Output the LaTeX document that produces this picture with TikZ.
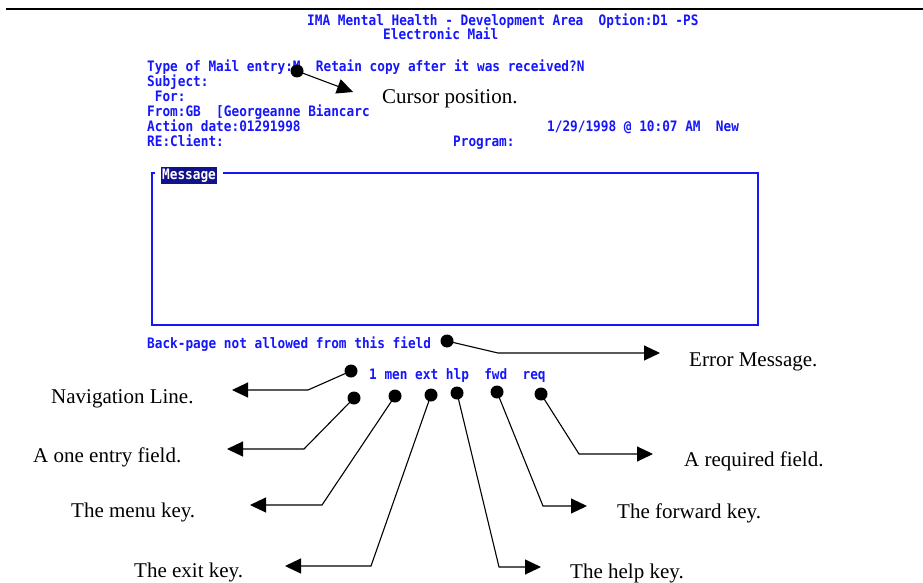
\documentclass[tikz,border=0pt]{standalone}
\usepackage{fontspec}
\setmainfont{Liberation Serif}
\newfontfamily\scrfont[FakeStretch=0.885]{DejaVu Sans Mono}
\usetikzlibrary{arrows.meta}
\definecolor{scrblue}{RGB}{22,22,250}
\definecolor{scrnavy}{RGB}{18,18,140}
\begin{document}
\begin{tikzpicture}[x=1pt,y=-1pt,
  scr/.style={anchor=base west, inner sep=0, text=scrblue,
    font=\scrfont\bfseries\fontsize{14.4}{14.4}\selectfont},
  lbl/.style={anchor=base west, inner sep=0,
    font=\fontsize{21}{21}\selectfont},
  dot/.style={circle, fill=black, inner sep=0, minimum size=13pt},
  conn/.style={line width=1.1pt, -{Triangle[length=16pt,width=15pt]}},
  frame/.style={draw=scrblue, line width=1.6pt}]
\useasboundingbox (0,0) rectangle (923,583);

% top rule
\draw[line width=2.2pt] (6,9) -- (923,9);

% screen header
\node[scr] (title) at (307,25.5) {IMA Mental Health - Development Area~ Option:D1 -PS};
\node[scr] (sub) at (383,40) {Electronic Mail};

% form fields
\node[scr] (type) at (147,71.5) {Type of Mail entry:M~ Retain copy after it was received?N};
\node[scr] (subj) at (147,86.5) {Subject:};
\node[scr] (for) at (154.7,101.5) {For:};
\node[scr] (from) at (147,116.5) {From:GB~ [Georgeanne Biancarc};
\node[scr] (adate) at (147,131.5) {Action date:01291998};
\node[scr] (stamp) at (547,131.5) {1/29/1998 @ 10:07 AM~ New};
\node[scr] (re) at (147,146.5) {RE:Client:};
\node[scr] (prog) at (453,146.5) {Program:};

% message frame
\draw[frame] (155,173) -- (152,173) -- (152,325) -- (758,325) -- (758,173) -- (223,173);
\node[scr, fill=scrnavy, text=white, inner xsep=1pt, inner ysep=2pt] (msg) at (161,179) {Message};

% status and navigation lines
\node[scr] (err) at (147,348) {Back-page not allowed from this field};
\node[scr] (nav) at (369,379) {1 men ext hlp~ fwd~ req};

% markers
\node[dot] (dcur) at (297,71) {};
\node[dot] (derr) at (447,341) {};
\node[dot] (dnav) at (351,371) {};
\node[dot] (done) at (354,398) {};
\node[dot] (dmen) at (395,396) {};
\node[dot] (dext) at (431,395) {};
\node[dot] (dhlp) at (457,393) {};
\node[dot] (dfwd) at (497,392) {};
\node[dot] (dreq) at (541,394) {};

% bends and arrow ends
\coordinate (tcur) at (353,92);
\coordinate (berr) at (498,353);  \coordinate (terr) at (660,353);
\coordinate (bnav) at (308,390);  \coordinate (tnav) at (232,390);
\coordinate (bone) at (304,449);  \coordinate (tone) at (227,449);
\coordinate (bmen) at (322,505);  \coordinate (tmen) at (250,505);
\coordinate (bext) at (371,566);  \coordinate (text) at (285,566);
\coordinate (bhlp) at (499,567);  \coordinate (thlp) at (541,567);
\coordinate (bfwd) at (543,506);  \coordinate (tfwd) at (587,506);
\coordinate (breq) at (579,454);  \coordinate (treq) at (653,454);

\draw[conn] (dcur.center) -- (tcur);
\draw[conn] (derr.center) -- (berr) -- (terr);
\draw[conn] (dnav.center) -- (bnav) -- (tnav);
\draw[conn] (done.center) -- (bone) -- (tone);
\draw[conn] (dmen.center) -- (bmen) -- (tmen);
\draw[conn] (dext.center) -- (bext) -- (text);
\draw[conn] (dhlp.center) -- (bhlp) -- (thlp);
\draw[conn] (dfwd.center) -- (bfwd) -- (tfwd);
\draw[conn] (dreq.center) -- (breq) -- (treq);

% callout labels
\node[lbl] (lcur) at (382,103.3) {Cursor position.};
\node[lbl] (lerr) at (689,366.7) {Error Message.};
\node[lbl] (lnav) at (51,403.3) {Navigation Line.};
\node[lbl] (lone) at (33,462.7) {A one entry field.};
\node[lbl] (lmen) at (71,517.3) {The menu key.};
\node[lbl] (lext) at (134,577.7) {The exit key.};
\node[lbl] (lreq) at (684,466) {A required field.};
\node[lbl] (lfwd) at (617,518.3) {The forward key.};
\node[lbl] (lhlp) at (570,578.3) {The help key.};
\end{tikzpicture}
\end{document}
